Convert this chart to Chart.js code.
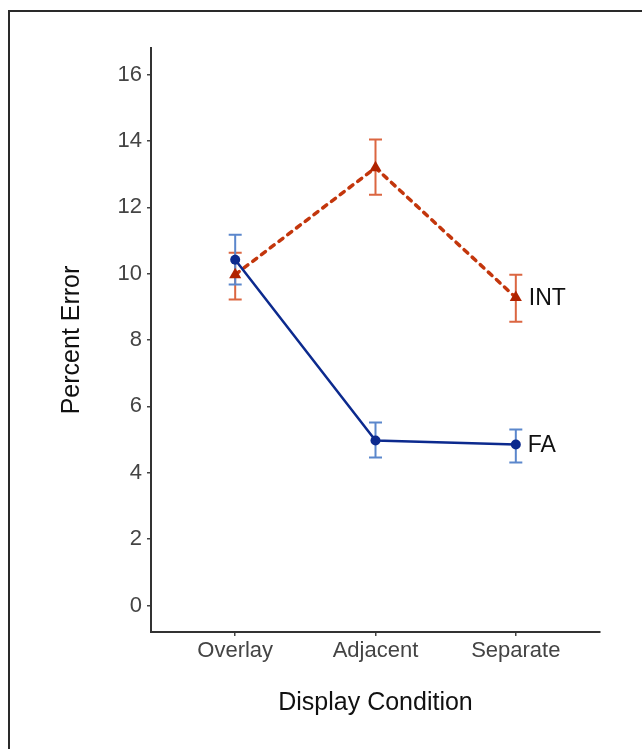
<!DOCTYPE html>
<html>
<head>
<meta charset="utf-8">
<script src="https://cdn.jsdelivr.net/npm/chart.js@4/dist/chart.umd.min.js"></script>
<style>
  html, body { margin: 0; padding: 0; background: #fff; }
  #wrap { position: relative; width: 642px; height: 749px; overflow: hidden; }
  #frame { position: absolute; left: 8px; top: 10px; width: 700px; height: 800px;
           border-left: 2px solid #2a2a2a; border-top: 2px solid #2a2a2a; box-sizing: border-box; }
  canvas { position: absolute; left: 0; top: 0; }
</style>
</head>
<body>
<div id="wrap">
  <div id="frame"></div>
  <canvas id="c" width="642" height="749"></canvas>
</div>
<script>
const categories = ['Overlay', 'Adjacent', 'Separate'];
const seriesNames = ['FA', 'INT'];
const faMean = [10.42, 4.97, 4.85];
const faLow  = [9.67, 4.46, 4.31];
const faHigh = [11.17, 5.51, 5.30];
const intMean = [9.97, 13.19, 9.28];
const intLow  = [9.22, 12.38, 8.55];
const intHigh = [10.63, 14.04, 9.97];
const yTicks = [0, 2, 4, 6, 8, 10, 12, 14, 16];
const xTitle = 'Display Condition';
const yTitle = 'Percent Error';

const FONT = '"Liberation Sans", Arial, sans-serif';
const FA_LINE = '#0c2a8e';
const FA_ERR = '#5b87cc';
const INT_LINE = '#c3360c';
const INT_PT = '#b02300';
const INT_ERR = '#db6641';

const errorBars = {
  id: 'errorBars',
  beforeDatasetsDraw(chart) {
    const {ctx, scales: {x, y}} = chart;
    const sets = [
      {low: intLow, high: intHigh, color: INT_ERR},
      {low: faLow, high: faHigh, color: FA_ERR}
    ];
    ctx.save();
    ctx.lineWidth = 2;
    sets.forEach(s => {
      ctx.strokeStyle = s.color;
      s.low.forEach((lo, i) => {
        const px = x.getPixelForValue(i);
        const yl = y.getPixelForValue(lo);
        const yh = y.getPixelForValue(s.high[i]);
        ctx.beginPath();
        ctx.moveTo(px, yl); ctx.lineTo(px, yh);
        ctx.moveTo(px - 6.5, yl); ctx.lineTo(px + 6.5, yl);
        ctx.moveTo(px - 6.5, yh); ctx.lineTo(px + 6.5, yh);
        ctx.stroke();
      });
    });
    ctx.restore();
  }
};

const seriesLabels = {
  id: 'seriesLabels',
  afterDatasetsDraw(chart) {
    const {ctx, scales: {x, y}} = chart;
    ctx.save();
    ctx.font = '23px ' + FONT;
    ctx.fillStyle = '#111';
    ctx.textBaseline = 'middle';
    ctx.textAlign = 'left';
    const last = categories.length - 1;
    ctx.fillText(seriesNames[1], x.getPixelForValue(last) + 13, y.getPixelForValue(intMean[last]) + 1);
    ctx.fillText(seriesNames[0], x.getPixelForValue(last) + 12, y.getPixelForValue(faMean[last]) + 1);
    ctx.restore();
  }
};

new Chart(document.getElementById('c'), {
  type: 'line',
  data: {
    datasets: [
      {
        label: seriesNames[0],
        data: faMean.map((v, i) => ({x: i, y: v})),
        borderColor: FA_LINE,
        backgroundColor: FA_LINE,
        borderWidth: 2.5,
        pointStyle: 'circle',
        pointRadius: 5,
        pointBorderWidth: 0,
        tension: 0
      },
      {
        label: seriesNames[1],
        data: intMean.map((v, i) => ({x: i, y: v})),
        borderColor: INT_LINE,
        backgroundColor: INT_PT,
        borderWidth: 3.5,
        borderDash: [5, 6],
        borderCapStyle: 'round',
        pointStyle: 'triangle',
        pointRadius: 7,
        pointBorderWidth: 0,
        tension: 0
      }
    ]
  },
  options: {
    responsive: false,
    animation: false,
    devicePixelRatio: 1,
    layout: { padding: { top: 48, right: 42, left: 0, bottom: 0 } },
    plugins: { legend: { display: false }, tooltip: { enabled: false } },
    scales: {
      x: {
        type: 'linear',
        min: -0.6,
        max: 2.6,
        afterBuildTicks(scale) { scale.ticks = categories.map((c, i) => ({value: i})); },
        afterFit(scale) { scale.height = 117; },
        ticks: {
          callback: (v) => categories[v],
          font: { size: 22, family: FONT },
          color: '#444',
          padding: 2,
          maxRotation: 0
        },
        grid: { display: true, drawOnChartArea: false, drawTicks: true, tickLength: 4, color: '#444', lineWidth: 1.5 },
        border: { display: true, color: '#333', width: 2 },
        title: {
          display: true,
          text: xTitle,
          font: { size: 25, family: FONT },
          color: '#111',
          padding: { top: 0, bottom: 31 }
        }
      },
      y: {
        type: 'linear',
        min: -0.8,
        max: 16.8,
        afterBuildTicks(scale) { scale.ticks = yTicks.map(v => ({value: v})); },
        afterFit(scale) { scale.width = 151; },
        ticks: {
          font: { size: 22, family: FONT },
          color: '#444',
          padding: 5
        },
        grid: { display: true, drawOnChartArea: false, drawTicks: true, tickLength: 4, color: '#444', lineWidth: 1.5 },
        border: { display: true, color: '#333', width: 2 },
        title: {
          display: true,
          text: yTitle,
          font: { size: 25, family: FONT },
          color: '#111',
          padding: { top: 57, bottom: 0 }
        }
      }
    }
  },
  plugins: [errorBars, seriesLabels]
});
</script>
</body>
</html>
